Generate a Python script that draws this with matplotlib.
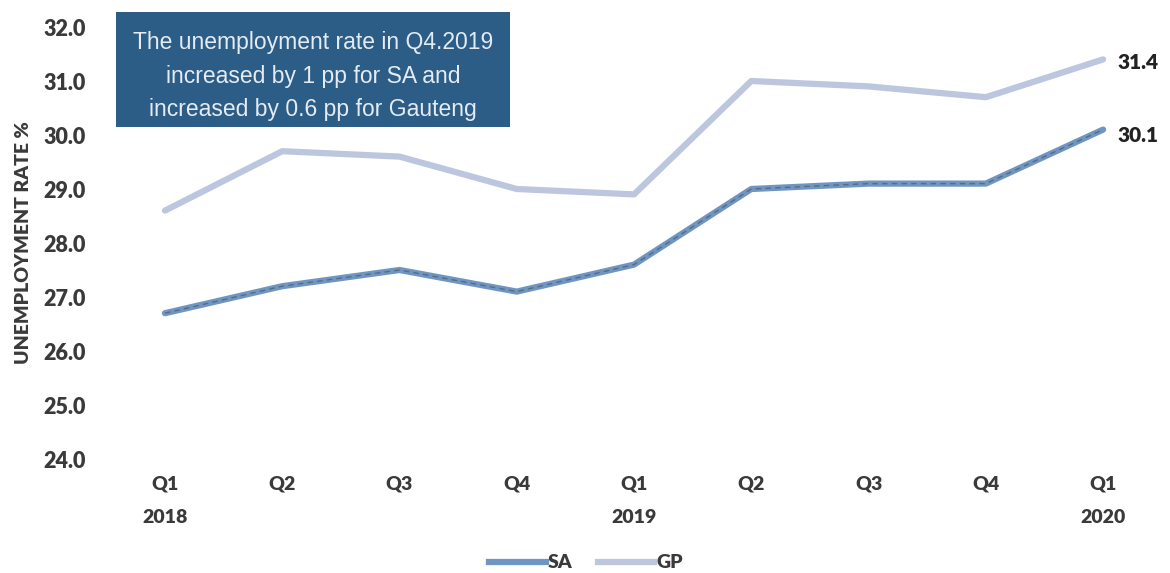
import matplotlib.pyplot as plt
from matplotlib.lines import Line2D

# Quarterly unemployment rate, Q1 2018 - Q1 2020
quarters = ['Q1\n2018', 'Q2', 'Q3', 'Q4', 'Q1\n2019', 'Q2', 'Q3', 'Q4', 'Q1\n2020']
sa = [26.7, 27.2, 27.5, 27.1, 27.6, 29.0, 29.1, 29.1, 30.1]
gp = [28.6, 29.7, 29.6, 29.0, 28.9, 31.0, 30.9, 30.7, 31.4]
yticks = [24.0, 25.0, 26.0, 27.0, 28.0, 29.0, 30.0, 31.0, 32.0]

sa_color = '#6f96c2'
gp_color = '#bcc6de'
text_color = '#3a3a3a'
heavy = 'heavy'

plt.rcParams['font.family'] = ['Lato', 'DejaVu Sans']

fig = plt.figure(figsize=(11.7, 5.73), dpi=100)
W, H = 1170, 573
ax = fig.add_axes([115 / W, 1 - 459 / H, (1150 - 115) / W, (459 - 27) / H])

x = list(range(len(quarters)))
ax.plot(x, gp, color=gp_color, lw=4.5, solid_capstyle='round', solid_joinstyle='round')
ax.plot(x, sa, color=sa_color, lw=4.5, solid_capstyle='round', solid_joinstyle='round')
ax.plot(x, sa, color='#55606e', lw=1.0, ls=(0, (4, 3)), alpha=0.8)

ax.set_xlim(-0.426, 8.4)
ax.set_ylim(24, 32)
ax.set_yticks(yticks)
ax.set_yticklabels([f'{v:.1f}' for v in yticks], fontsize=15.5, fontweight=heavy, color=text_color)
ax.set_xticks(x)
ax.set_xticklabels(quarters, fontsize=14, fontweight=heavy, color=text_color, linespacing=2.15)
ax.tick_params(length=0, axis='y', pad=21)
ax.tick_params(length=0, axis='x', pad=12)
for s in ax.spines.values():
    s.set_visible(False)

ax.set_ylabel('UNEMPLOYMENT RATE %', fontsize=14, fontweight=heavy, color=text_color, labelpad=8)

# end-of-series value labels
ax.annotate(f'{gp[-1]:.1f}', (x[-1], gp[-1]), xytext=(10, -2), textcoords='offset points',
            va='center', ha='left', fontsize=15, fontweight=heavy, color='#222222')
ax.annotate(f'{sa[-1]:.1f}', (x[-1], sa[-1]), xytext=(10, -4), textcoords='offset points',
            va='center', ha='left', fontsize=15, fontweight=heavy, color='#222222')

# callout box
box = plt.Rectangle((116 / W, 1 - 127 / H), (510 - 116) / W, (127 - 12) / H,
                    transform=fig.transFigure, facecolor='#2c5d87', edgecolor='none')
fig.patches.append(box)
fig.text(313 / W, 1 - 76 / H,
         'The unemployment rate in Q4.2019\nincreased by 1 pp for SA and\nincreased by 0.6 pp for Gauteng',
         ha='center', va='center', fontsize=16.5, color='#e4ebf2', family='Liberation Sans',
         linespacing=1.6)

handles = [Line2D([], [], color=sa_color, lw=4.5), Line2D([], [], color=gp_color, lw=4.5)]
fig.legend(handles, ['SA', 'GP'], loc='center', bbox_to_anchor=(586 / W, 1 - 563 / H), ncol=2,
           frameon=False, handlelength=2.9, handletextpad=0.1, columnspacing=1.3,
           prop={'weight': heavy, 'size': 14, 'family': 'Lato'}, labelcolor=text_color)

fig.savefig('out.png', dpi=100, facecolor='white')
